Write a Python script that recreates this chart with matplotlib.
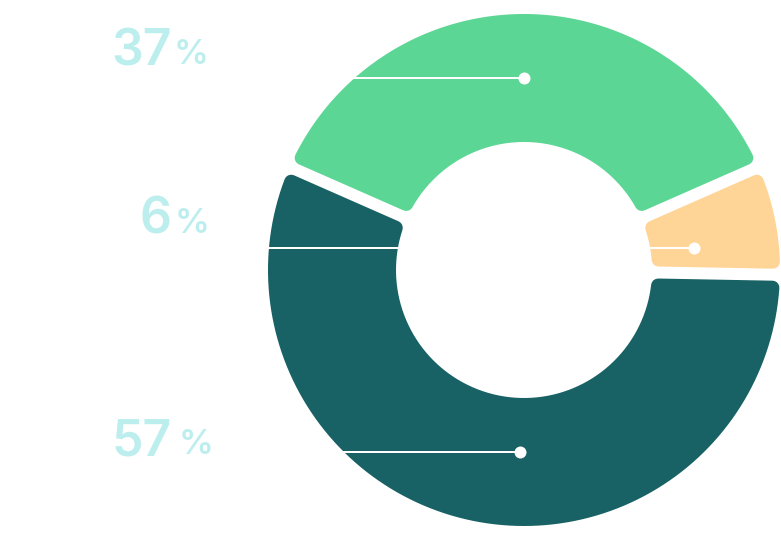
import numpy as np
import matplotlib
matplotlib.use("Agg")
from matplotlib import pyplot as plt
from matplotlib.patches import Polygon

# data
labels = ["37", "6", "57"]
shares = [36.8, 6.9, 56.3]   # arc sizes as drawn in the picture
colors = ["#5cd694", "#ffd497", "#186164"]

# layout (pixels, y down)
W, H = 781, 554
cx, cy = 524, 270
R_out, R_in = 256, 128
gap = 12
corner = 7
anchor_y = [78, 248, 452]       # y of the white pointer line for each slice
anchor_x = [524, 694, 520]      # where the pointer dot sits
text_y = [65, 234, 455]
pct_x = [175, 176, 180]
label_color = "#bdeeee"

PX = 72 / 100  # px -> pt


def sector(lo, hi):
    d = gap / 2 + corner
    ro, ri = R_out - corner, R_in + corner
    a = np.radians(lo)
    b = np.radians(hi)
    t_out = np.linspace(a + np.arcsin(d / ro), b - np.arcsin(d / ro), 120)
    t_in = np.linspace(b - np.arcsin(d / ri), a + np.arcsin(d / ri), 80)
    xs = np.concatenate([cx + ro * np.cos(t_out), cx + ri * np.cos(t_in)])
    ys = np.concatenate([cy - ro * np.sin(t_out), cy - ri * np.sin(t_in)])
    return np.column_stack([xs, ys])


fig = plt.figure(figsize=(W / 100, H / 100), dpi=100)
ax = fig.add_axes([0, 0, 1, 1])
ax.set_xlim(0, W)
ax.set_ylim(H, 0)
ax.axis("off")

total = sum(shares)
start = 90 + shares[0] / total * 360 / 2
for val, col in zip(shares, colors):
    span = val / total * 360
    hi, lo = start, start - span
    ax.add_patch(Polygon(sector(lo, hi), closed=True, facecolor=col,
                         edgecolor=col, linewidth=2 * corner * PX,
                         joinstyle="round"))
    start = lo

for i, lab in enumerate(labels):
    y = anchor_y[i]
    ax.plot([200, anchor_x[i]], [y, y], color="white", lw=2 * PX,
            solid_capstyle="butt", zorder=3)
    ax.plot(anchor_x[i], y, "o", color="white", ms=12 * PX, mew=0, zorder=4)
    ax.text(172, text_y[i], lab, ha="right", va="baseline", fontsize=36,
            color=label_color, family="Inter", fontweight="semibold")
    ax.text(pct_x[i] - 1, text_y[i] - 1, "%", ha="left", va="baseline",
            fontsize=25, color=label_color, family="Inter", fontweight="semibold")

fig.savefig("out.png", dpi=100)
